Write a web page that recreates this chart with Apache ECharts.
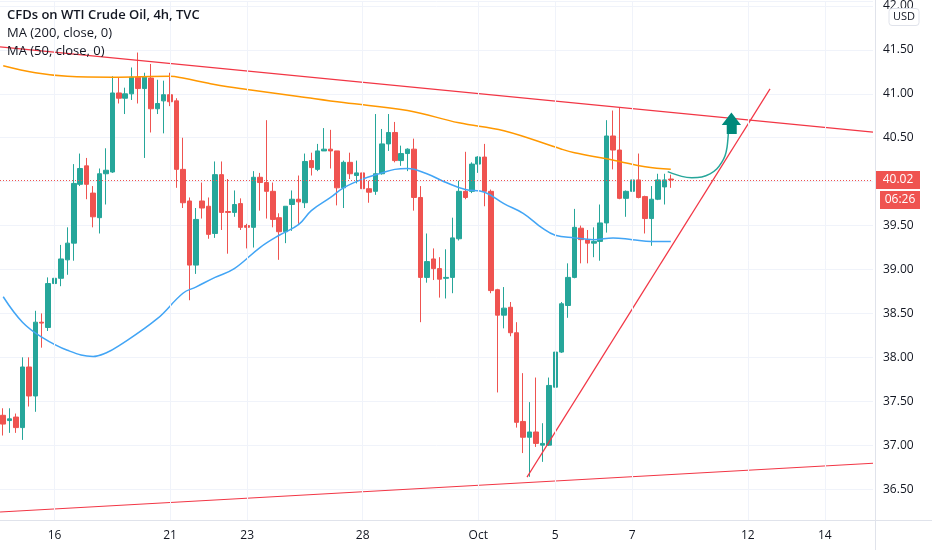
<!DOCTYPE html>
<html>
<head>
<meta charset="utf-8">
<script src="https://cdn.jsdelivr.net/npm/echarts@6/dist/echarts.min.js"></script>
<style>
html, body { margin: 0; padding: 0; background: #fff; }
#main { width: 932px; height: 550px; }
</style>
</head>
<body>
<div id="main"></div>
<script>
// 4h candles (open / close / low / high)
const opens = [37.34,37.28,37.32,37.20,37.89,37.56,38.40,38.34,38.84,38.90,
  39.11,39.30,39.97,40.18,39.87,39.59,40.09,40.11,41.01,40.95,
  41.00,41.19,41.06,41.18,40.83,40.92,40.99,40.92,40.14,39.78,
  39.05,39.78,39.72,39.41,40.08,39.66,39.65,39.75,39.50,39.48,
  40.05,39.99,39.89,39.59,39.43,39.74,39.80,39.76,40.24,40.14,
  40.35,40.37,40.35,39.93,40.22,40.07,40.10,39.92,39.89,40.09,
  40.43,40.56,40.24,40.32,40.37,39.82,38.91,39.12,39.01,38.90,
  38.91,39.35,39.89,39.89,40.20,40.28,39.89,38.77,38.48,38.57,
  38.28,37.27,37.09,37.15,37.00,37.00,37.66,38.06,38.59,38.91,
  39.47,39.34,39.30,39.32,39.53,40.52,40.36,39.81,39.89,40.02,
  39.83,39.58,39.80,39.94,40.03];
const closes = [37.24,37.30,37.20,37.89,37.56,38.40,38.39,38.84,38.90,39.12,
  39.30,39.98,40.15,39.97,39.60,40.09,40.13,41.01,40.95,41.00,
  41.19,41.06,41.19,40.83,40.89,40.99,40.91,40.14,39.76,39.05,
  39.57,39.70,39.40,40.08,39.65,39.65,39.74,39.48,39.48,40.05,
  39.99,39.89,39.57,39.43,39.72,39.80,39.77,40.23,40.16,40.35,
  40.37,40.35,39.93,40.22,40.09,40.10,39.92,39.88,40.09,40.43,
  40.56,40.24,40.32,40.37,39.82,38.91,39.09,39.01,38.89,38.91,
  39.36,39.89,39.82,40.20,40.28,39.89,38.76,38.48,38.56,38.28,
  37.26,37.09,37.15,37.02,37.02,37.68,38.06,38.61,38.91,39.48,
  39.34,39.30,39.32,39.53,40.52,40.36,39.81,39.89,40.02,39.82,
  39.58,39.80,40.02,40.02,40.02];
const lows = [37.11,37.14,37.14,37.06,37.44,37.38,38.11,38.30,38.69,38.81,
  38.94,39.10,39.95,39.80,39.48,39.41,39.74,40.10,40.89,40.77,
  40.93,40.89,40.27,40.56,40.77,40.55,40.86,39.93,39.70,38.65,
  38.95,39.58,39.35,39.36,39.45,39.18,39.60,39.45,39.24,39.25,
  39.67,39.58,39.48,39.11,39.30,39.44,39.52,39.70,40.07,40.12,
  40.35,40.15,39.73,39.70,40.03,39.98,39.76,39.76,39.85,40.08,
  40.35,40.22,40.18,40.12,39.67,38.40,38.85,38.88,38.68,38.67,
  38.73,39.33,39.80,39.87,40.10,39.72,38.73,37.60,38.33,38.24,
  37.20,36.91,36.64,36.98,36.81,36.99,37.57,38.05,38.45,38.90,
  39.07,39.07,39.14,39.10,39.42,40.14,39.80,39.60,39.74,39.81,
  39.41,39.27,39.79,39.74,39.93];
const highs = [37.42,37.42,37.36,38.00,38.00,38.53,38.50,38.91,39.03,39.28,
  39.48,40.20,40.32,40.27,39.95,40.15,40.38,41.20,41.18,41.07,
  41.30,41.47,41.24,41.34,41.16,41.15,41.24,40.95,40.50,39.82,
  39.70,39.99,39.82,40.23,40.23,40.03,39.90,39.81,39.52,40.12,
  40.10,40.70,39.99,39.64,39.72,39.90,40.07,40.32,40.33,40.43,
  40.61,40.59,40.35,40.24,40.33,40.24,40.15,40.01,40.77,40.60,
  40.77,40.68,40.41,40.38,40.49,39.95,39.41,39.24,39.14,39.23,
  39.59,40.01,40.34,40.22,40.29,40.43,39.91,38.78,38.80,38.63,
  38.40,37.82,37.49,37.77,37.25,37.77,38.16,38.63,39.07,39.69,
  39.50,39.45,39.48,39.74,40.70,40.81,40.84,39.90,40.11,40.32,
  39.84,39.95,40.09,40.09,40.08];

// moving averages, sampled as [bar index, price]
const ma200 = [[0,41.32],[5,41.24],[10,41.20],[17,41.19],[26,41.20],[28,41.18],[32,41.12],
  [35,41.08],[38,41.05],[46,40.97],[53,40.90],[63,40.81],[71,40.67],[78,40.58],[87,40.37],
  [89,40.33],[94,40.26],[96,40.23],[100,40.17],[104,40.14]];
const ma50 = [[0,38.69],[3,38.40],[6,38.23],[10,38.08],[14,38.01],[16,38.05],[18,38.13],
  [24,38.44],[28,38.73],[30,38.80],[33,38.91],[36,39.01],[40,39.25],[43,39.39],[46,39.51],
  [48,39.67],[51,39.82],[53,39.93],[56,40.03],[59,40.10],[61,40.14],[63,40.15],[66,40.09],
  [69,39.99],[72,39.91],[75,39.88],[78,39.75],[81,39.64],[84,39.47],[86,39.39],[89,39.36],
  [92,39.34],[95,39.36],[98,39.34],[101,39.32],[104,39.32]];

// drawings
const upperLine = [[-0.5,41.534],[135.5,40.565]];
const lowerLine = [[-0.5,36.239],[135.5,36.794]];
const risingLine = [[81.6,36.636],[119.46,41.057]];
const projection = [[103.52,40.114],[105.70,40.060],[107.26,40.045],[108.82,40.053],[110.11,40.088],
  [111.15,40.144],[111.93,40.219],[112.45,40.295],[112.76,40.390],[112.96,40.542]];
const arrowAt = [[113.44,40.665]];

const lastPrice = 40.02;
const timeLeft = '06:26';

// date axis
const barCount = 136;
const dayLabels = ['16','21','23','28','Oct','5','7','12','14'];
const dayLabelAt = [8,26,38,56,74,86,98,116,128];

const FONT = '"Open Sans", sans-serif';
const TEXT = '#131722';
const GRID_LINE = '#f0f3fa';
const AXIS_LINE = '#e0e3eb';
const UP = '#26a69a';
const DOWN = '#ef5350';
const DRAW_RED = '#f23645';

const categories = [];
for (let i = 0; i < barCount; i++) categories.push('b' + i);
const candles = opens.map((o, i) => [o, closes[i], lows[i], highs[i]]);

const chart = echarts.init(document.getElementById('main'));

function drawLine(data, color, width) {
    return {
        type: 'line', xAxisIndex: 1, yAxisIndex: 0, data: data,
        symbol: 'none', silent: true, z: 4,
        lineStyle: { color: color, width: width }
    };
}

const option = {
    animation: false,
    backgroundColor: '#ffffff',
    grid: { left: 0, right: 59, top: 0, bottom: 30 },
    xAxis: [{
        type: 'category',
        data: categories,
        boundaryGap: true,
        axisLine: { show: false },
        axisTick: { show: false },
        splitLine: { show: false },
        axisLabel: {
            interval: (idx) => dayLabelAt.indexOf(idx) >= 0,
            formatter: (v, idx) => {
                const k = dayLabelAt.indexOf(idx);
                return k >= 0 ? dayLabels[k] : '';
            },
            color: TEXT, fontSize: 12, fontFamily: FONT, margin: 10
        }
    }, {
        type: 'value', min: -0.5, max: barCount - 0.5, show: false
    }],
    yAxis: {
        type: 'value',
        position: 'right',
        min: 36.148,
        max: 42.057,
        splitNumber: 12,
        axisLine: { show: false },
        axisTick: { show: false },
        splitLine: { lineStyle: { color: GRID_LINE, width: 1 } },
        axisLabel: {
            margin: 10,
            color: TEXT, fontSize: 12, fontFamily: FONT,
            formatter: (v) => Math.abs(v * 2 - Math.round(v * 2)) < 1e-6 ? v.toFixed(2) : ''
        }
    },
    series: [
        {
            // vertical day grid lines
            type: 'line', xAxisIndex: 1, yAxisIndex: 0, data: [], z: 0, silent: true,
            markLine: {
                silent: true, symbol: ['none', 'none'], label: { show: false },
                lineStyle: { color: GRID_LINE, type: 'solid', width: 1 },
                data: dayLabelAt.map(i => ({ xAxis: i }))
            }
        },
        {
            type: 'candlestick',
            xAxisIndex: 0, yAxisIndex: 0,
            data: candles,
            barWidth: 5,
            z: 2,
            itemStyle: {
                color: UP, color0: DOWN,
                borderColor: UP, borderColor0: DOWN, borderWidth: 1
            },
            markLine: {
                silent: true, symbol: ['none', 'none'], label: { show: false },
                lineStyle: { color: DOWN, type: [1, 2], width: 1 },
                data: [{ yAxis: lastPrice }]
            }
        },
        Object.assign(drawLine(ma200, '#ff9800', 1.5), { smooth: 0.4, z: 3 }),
        Object.assign(drawLine(ma50, '#42a5f5', 1.5), { smooth: 0.4, z: 3 }),
        drawLine(upperLine, DRAW_RED, 1.2),
        drawLine(lowerLine, DRAW_RED, 1.2),
        drawLine(risingLine, DRAW_RED, 1.2),
        Object.assign(drawLine(projection, UP, 1.5), { smooth: 0.3 }),
        {
            type: 'scatter', xAxisIndex: 1, yAxisIndex: 0, data: arrowAt, z: 5, silent: true,
            symbol: 'path://M9.65,0 L19.3,12.6 L15,12.6 L15,21.6 L5,21.6 L5,12.6 L0,12.6 Z',
            symbolSize: [19.3, 21.6],
            itemStyle: { color: '#00897b', opacity: 1 }
        }
    ]
};

chart.setOption(option);

// price boxes and legend text, placed from the axis scale
const py = chart.convertToPixel({ yAxisIndex: 0 }, lastPrice);
chart.setOption({
    graphic: [
        { type: 'line', shape: { x1: 0, y1: 520.5, x2: 932, y2: 520.5 }, style: { stroke: AXIS_LINE, lineWidth: 1 }, z: 10 },
        { type: 'line', shape: { x1: 875.5, y1: 0, x2: 875.5, y2: 550 }, style: { stroke: AXIS_LINE, lineWidth: 1 }, z: 10 },
        { type: 'text', left: 7, top: 9, z: 20,
          style: { text: 'CFDs on WTI Crude Oil, 4h, TVC', fill: TEXT, font: '600 13px ' + FONT } },
        { type: 'text', left: 7, top: 27, z: 20,
          style: { text: 'MA (200, close, 0)', fill: TEXT, font: '13px ' + FONT } },
        { type: 'text', left: 7, top: 45, z: 20,
          style: { text: 'MA (50, close, 0)', fill: TEXT, font: '13px ' + FONT } },
        { type: 'rect', shape: { x: 889, y: 8.5, width: 30, height: 17, r: 3 }, z: 20,
          style: { fill: '#fff', stroke: AXIS_LINE, lineWidth: 1 } },
        { type: 'text', x: 904, y: 17, z: 21,
          style: { text: 'USD', fill: TEXT, font: '11px ' + FONT, align: 'center', verticalAlign: 'middle' } },
        { type: 'rect', shape: { x: 876, y: py - 9, width: 44, height: 18 }, z: 20,
          style: { fill: DOWN } },
        { type: 'text', x: 898, y: py, z: 21,
          style: { text: lastPrice.toFixed(2), fill: '#fff', font: '12px ' + FONT, align: 'center', verticalAlign: 'middle' } },
        { type: 'rect', shape: { x: 880, y: py + 11, width: 40, height: 18 }, z: 20,
          style: { fill: DOWN } },
        { type: 'text', x: 900, y: py + 20, z: 21,
          style: { text: timeLeft, fill: '#fff', font: '12px ' + FONT, align: 'center', verticalAlign: 'middle' } }
    ]
});
</script>
</body>
</html>
